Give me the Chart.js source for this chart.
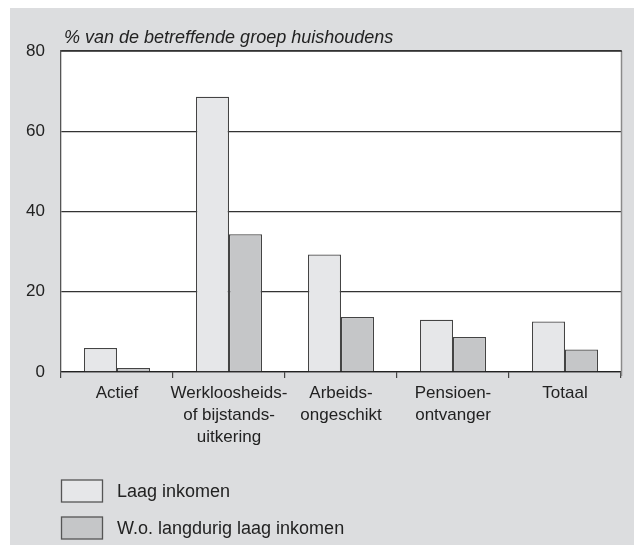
<!DOCTYPE html>
<html>
<head>
<meta charset="utf-8">
<script src="https://cdn.jsdelivr.net/npm/chart.js@4/dist/chart.umd.min.js"></script>
<style>
html,body{margin:0;padding:0;background:#ffffff;}
#wrap{position:relative;width:634px;height:545px;}
</style>
</head>
<body>
<div id="wrap"><canvas id="c" width="634" height="545"></canvas></div>
<script>
const categories = [
  ['Actief'],
  ['Werkloosheids-', 'of bijstands-', 'uitkering'],
  ['Arbeids-', 'ongeschikt'],
  ['Pensioen-', 'ontvanger'],
  ['Totaal']
];
const seriesNames = ['Laag inkomen', 'W.o. langdurig laag inkomen'];
const laagInkomen = [6.0, 68.6, 29.3, 13.0, 12.6];
const langdurigLaag = [1.0, 34.3, 13.7, 8.7, 5.6];
const yTicks = [0, 20, 40, 60, 80];
const yAxisTitle = '% van de betreffende groep huishoudens';

const FONT = '"Liberation Sans", Arial, sans-serif';
const TEXT = '#222222';
const PANEL = '#dcdddf';
const fills = ['#e6e7e9', '#c5c6c8'];

const decor = {
  id: 'decor',
  beforeDraw(chart) {
    const ctx = chart.ctx, a = chart.chartArea;
    ctx.save();
    ctx.fillStyle = PANEL;
    ctx.fillRect(10, 8, 624, 537);
    ctx.fillStyle = '#ffffff';
    ctx.fillRect(a.left, a.top, a.right - a.left, a.bottom - a.top);
    ctx.restore();
  },
  afterDraw(chart) {
    const ctx = chart.ctx, a = chart.chartArea;
    ctx.save();
    // right border
    ctx.strokeStyle = '#8a8a8a';
    ctx.lineWidth = 1.5;
    ctx.beginPath();
    ctx.moveTo(a.right + 0.5, a.top);
    ctx.lineTo(a.right + 0.5, a.bottom + 4);
    ctx.stroke();
    // top border
    ctx.strokeStyle = '#333333';
    ctx.lineWidth = 1.3;
    ctx.beginPath();
    ctx.moveTo(a.left, a.top);
    ctx.lineTo(a.right + 1, a.top);
    ctx.stroke();
    // y-axis title
    ctx.fillStyle = TEXT;
    ctx.font = 'italic 18px ' + FONT;
    ctx.textBaseline = 'middle';
    ctx.textAlign = 'left';
    ctx.fillText(yAxisTitle, 64, 38);
    // legend
    const ds = chart.data.datasets;
    const rows = [491, 528];
    ds.forEach((d, i) => {
      const y = rows[i];
      ctx.fillStyle = d.backgroundColor;
      ctx.fillRect(61.5, y - 11, 41, 22);
      ctx.strokeStyle = '#555555';
      ctx.lineWidth = 1.3;
      ctx.strokeRect(61.5, y - 11, 41, 22);
      ctx.fillStyle = TEXT;
      ctx.font = '18px ' + FONT;
      ctx.textAlign = 'left';
      ctx.textBaseline = 'middle';
      ctx.fillText(d.label, 117, y + 1);
    });
    ctx.restore();
  }
};

new Chart(document.getElementById('c'), {
  type: 'bar',
  data: {
    labels: categories,
    datasets: [
      { label: seriesNames[0], data: laagInkomen, backgroundColor: fills[0], borderColor: '#444444', borderWidth: 1.2, borderSkipped: 'bottom' },
      { label: seriesNames[1], data: langdurigLaag, backgroundColor: fills[1], borderColor: '#444444', borderWidth: 1.2, borderSkipped: 'bottom' }
    ]
  },
  options: {
    responsive: false,
    animation: false,
    devicePixelRatio: 1,
    layout: { padding: { top: 51, right: 13, bottom: 93, left: 0 } },
    datasets: { bar: { categoryPercentage: 0.59, barPercentage: 1.0 } },
    plugins: { legend: { display: false }, tooltip: { enabled: false }, title: { display: false } },
    scales: {
      x: {
        afterFit(s) { s.height = 80; },
        grid: { display: true, drawOnChartArea: false, drawTicks: true, tickLength: 6, color: '#444444', lineWidth: 1.2, offset: true },
        border: { display: true, color: '#222222', width: 1.3 },
        ticks: { color: TEXT, font: { family: FONT, size: 17, lineHeight: 1.3 }, padding: 4, maxRotation: 0, autoSkip: false }
      },
      y: {
        min: 0, max: 80,
        afterFit(s) { s.width = 61; },
        afterBuildTicks(s) { s.ticks = yTicks.map(v => ({ value: v })); },
        grid: { display: true, drawTicks: false, color: '#333333', lineWidth: 1.3 },
        border: { display: true, color: '#555555', width: 1.3 },
        ticks: { color: TEXT, font: { family: FONT, size: 17 }, padding: 16 }
      }
    }
  },
  plugins: [decor]
});
</script>
</body>
</html>
